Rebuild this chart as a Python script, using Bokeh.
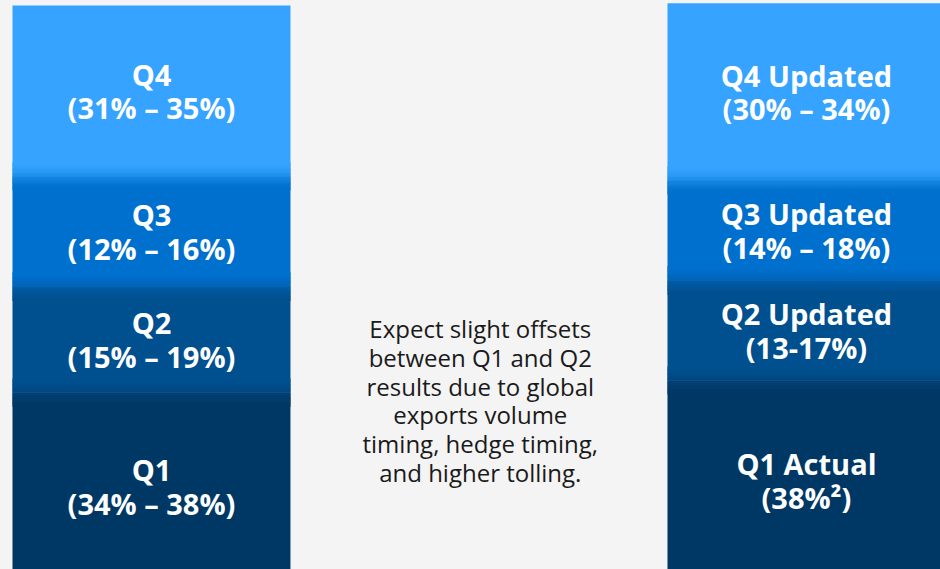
import numpy as np
from bokeh.plotting import figure
from bokeh.models import ColumnDataSource
from bokeh.core.properties import value
from bokeh.embed import file_html
from bokeh.resources import INLINE

# ---- data ----
bars = ["Initial guidance", "Updated guidance"]
quarters = ["Q1", "Q2", "Q3", "Q4"]
left_labels = ["Q1\n(34% – 38%)", "Q2\n(15% – 19%)", "Q3\n(12% – 16%)", "Q4\n(31% – 35%)"]
right_labels = ["Q1 Actual\n(38%²)", "Q2 Updated\n(13-17%)", "Q3 Updated\n(14% – 18%)", "Q4 Updated\n(30% – 34%)"]
left_heights = [33.1, 18.6, 19.4, 30.0]   # drawn segment sizes (share of bar)
right_heights = [35.2, 17.6, 17.6, 31.1]
note = ("Expect slight offsets\nbetween Q1 and Q2\nresults due to global\n"
        "exports volume\ntiming, hedge timing,\nand higher tolling.")

# ---- styles ----
seg_colors = ["#003865", "#005090", "#0070CE", "#35A3FF"]
bg = "#F4F4F4"
W, H = 940, 569
bar_width = 0.4244
x_start = -0.2305
x_end = x_start + W / 655.0
y_start, y_end = 2, 102

p = figure(width=W, height=H, x_range=(x_start, x_end), y_range=(y_start, y_end),
           output_backend="svg", toolbar_location=None, min_border=0)
p.background_fill_color = bg
p.border_fill_color = bg
p.outline_line_color = None
p.xaxis.visible = False
p.yaxis.visible = False
p.xgrid.visible = False
p.ygrid.visible = False


def hex2rgb(h):
    h = h.lstrip("#")
    return np.array([int(h[i:i + 2], 16) for i in (0, 2, 4)], dtype=float)


def rgb2hex(c):
    return "#%02x%02x%02x" % tuple(int(round(v)) for v in c)


for xi, (heights, labels) in enumerate([(left_heights, left_labels), (right_heights, right_labels)]):
    tops = np.cumsum(heights)
    bottoms = tops - np.array(heights)
    src = ColumnDataSource(dict(x=[xi] * 4, bottom=bottoms, top=tops, color=seg_colors))
    p.vbar(x="x", bottom="bottom", top="top", width=bar_width, fill_color="color",
           line_color=None, source=src)
    # soft gradient between segments
    half = 2.5
    n = 30
    gl, gr, gb, gt, gc = [], [], [], [], []
    for i in range(3):
        b = tops[i]
        c0 = hex2rgb(seg_colors[i])
        c1 = hex2rgb(seg_colors[i + 1])
        edges = np.linspace(b - half, b + half, n + 1)
        for k in range(n):
            t = (k + 0.5) / n
            t = t * t * (3 - 2 * t)
            gb.append(edges[k])
            gt.append(edges[k + 1] + 0.02)
            gc.append(rgb2hex(c0 * (1 - t) + c1 * t))
            gl.append(xi - bar_width / 2)
            gr.append(xi + bar_width / 2)
    p.quad(left=gl, right=gr, bottom=gb, top=gt, fill_color=gc, line_color=None)
    # labels
    mids = (bottoms + tops) / 2
    lsrc = ColumnDataSource(dict(x=[xi] * 4, y=mids, text=labels))
    p.text(x="x", y="y", text="text", source=lsrc, text_align="center",
           text_baseline="middle", text_color="white", text_font=value("Open Sans"),
           text_font_style="bold", text_font_size="29px", text_line_height=0.86)

# middle note
p.text(x=[0.502], y=[31.7], text=[note], text_align="center",
       text_baseline="middle", text_color="#1a1a1a", text_font=value("Open Sans"),
       text_font_size="24px", text_line_height=0.87)

html = file_html(p, INLINE, title="Quarterly guidance")
html = html.replace("</head>",
                    "<style>html,body{margin:0;padding:0;background:#F4F4F4;overflow:hidden}</style></head>", 1)
open("out.html", "w").write(html)
